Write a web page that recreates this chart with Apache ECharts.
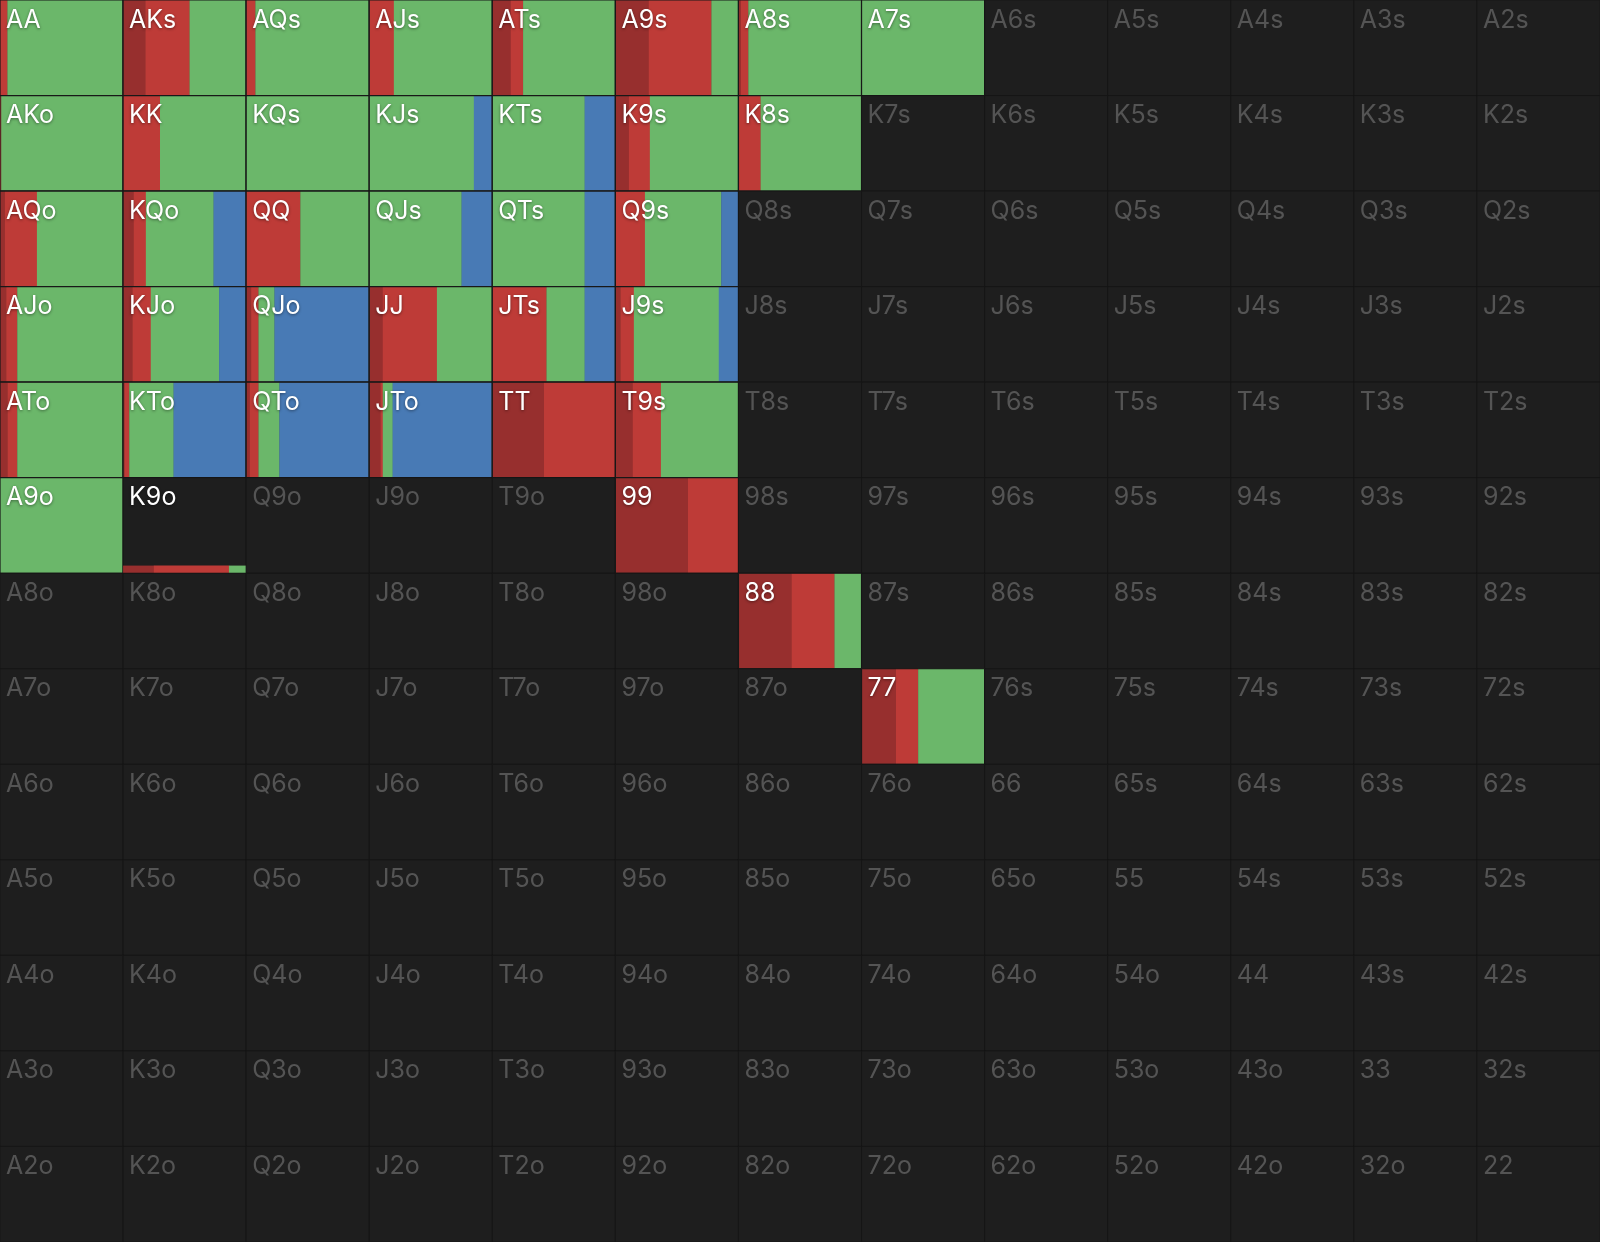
<!DOCTYPE html>
<html><head><meta charset="utf-8">
<script src="https://cdn.jsdelivr.net/npm/echarts@6/dist/echarts.min.js"></script>
<style>html,body{margin:0;padding:0;background:#1e1e1e;overflow:hidden}#chart{width:1600px;height:1242px}</style>
</head><body><div id="chart"></div>
<script>
// Rank order (rows / columns of the grid)
const ranks = ['A','K','Q','J','T','9','8','7','6','5','4','3','2'];

// Hands that have a strategy, with action frequencies (fractions of the cell width)
const hands     = ['AA','AKs','AQs','AJs','ATs','A9s','A8s','A7s',
                   'AKo','KK','KQs','KJs','KTs','K9s','K8s',
                   'AQo','KQo','QQ','QJs','QTs','Q9s',
                   'AJo','KJo','QJo','JJ','JTs','J9s',
                   'ATo','KTo','QTo','JTo','TT','T9s',
                   'A9o','K9o','99','88','77'];
const raiseBig  = [0,0.18,0,0,0.15,0.27,0.02,0,
                   0,0,0,0,0,0.11,0,
                   0.04,0.085,0,0,0,0,
                   0.05,0.075,0.04,0.11,0,0.04,
                   0.06,0.01,0.03,0.09,0.42,0.14,
                   0,0.25,0.59,0.43,0.28];
const raiseSmall= [0.06,0.36,0.075,0.20,0.10,0.51,0.06,0,
                   0.01,0.30,0,0,0,0.17,0.18,
                   0.26,0.10,0.44,0,0,0.24,
                   0.09,0.15,0.06,0.44,0.44,0.11,
                   0.08,0.04,0.07,0.02,0.58,0.23,
                   0,0.61,0.41,0.35,0.18];
const call      = [0.94,0.46,0.925,0.80,0.75,0.22,0.92,1,
                   0.99,0.70,1,0.85,0.75,0.72,0.82,
                   0.70,0.55,0.56,0.75,0.75,0.62,
                   0.86,0.555,0.13,0.45,0.31,0.69,
                   0.86,0.36,0.17,0.08,0,0.63,
                   1,0.14,0,0.22,0.54];
const fold      = [0,0,0,0,0,0,0,0,
                   0,0,0,0.15,0.25,0,0,
                   0,0.265,0,0.25,0.25,0.14,
                   0,0.22,0.77,0,0.25,0.16,
                   0,0.59,0.73,0.81,0,0,
                   0,0,0,0,0];
const weight    = [1,1,1,1,1,1,1,1,
                   1,1,1,1,1,1,1,
                   1,1,1,1,1,1,
                   1,1,1,1,1,1,
                   1,1,1,1,1,1,
                   1,0.08,1,1,1];

const actionColors = ['#972f2e','#be3b37','#6bb76a','#487ab5'];

function handName(r, c) {
  if (r === c) return ranks[r] + ranks[c];
  if (c > r) return ranks[r] + ranks[c] + 's';
  return ranks[c] + ranks[r] + 'o';
}

const cells = [];
for (let r = 0; r < 13; r++) for (let c = 0; c < 13; c++) cells.push([c, r]);

const chart = echarts.init(document.getElementById('chart'), null, {renderer: 'canvas'});

function renderItem(params, api) {
  const c = api.value(0), r = api.value(1);
  const p0 = api.coord([c, r]);
  const p1 = api.coord([c + 1, r + 1]);
  const x = p0[0], y = p0[1], w = p1[0] - p0[0], h = p1[1] - p0[1];
  const name = handName(r, c);
  const idx = hands.indexOf(name);
  const children = [{
    type: 'rect', shape: {x: x, y: y, width: w, height: h},
    style: {fill: '#1e1e1e', stroke: '#161616', lineWidth: 1}
  }];
  if (idx >= 0) {
    const fr = [raiseBig[idx], raiseSmall[idx], call[idx], fold[idx]];
    const bh = h * weight[idx];
    let cx = x;
    for (let k = 0; k < 4; k++) {
      const bw = w * fr[k];
      if (bw > 0) {
        children.push({type: 'rect', shape: {x: cx, y: y + h - bh, width: bw + 0.3, height: bh},
          style: {fill: actionColors[k]}});
      }
      cx += bw;
    }
    if (weight[idx] >= 1) {
      children.push({type: 'rect', shape: {x: x, y: y, width: w, height: h},
        style: {fill: null, stroke: '#181818', lineWidth: 1.2}});
    }
  }
  children.push({
    type: 'text', x: x + 6, y: y + 20,
    style: {
      text: name, fontFamily: 'Inter, Roboto, sans-serif', fontSize: 25, fontWeight: 400,
      fill: idx >= 0 ? '#ffffff' : '#545454', verticalAlign: 'middle', align: 'left',
      textShadowColor: idx >= 0 ? 'rgba(0,0,0,0.45)' : 'transparent',
      textShadowBlur: idx >= 0 ? 3 : 0, textShadowOffsetY: idx >= 0 ? 1 : 0
    }
  });
  return {type: 'group', children: children};
}

chart.setOption({
  backgroundColor: '#1e1e1e',
  animation: false,
  grid: {left: 0, right: 0, top: 0, bottom: 0},
  xAxis: {type: 'value', min: 0, max: 13, show: false},
  yAxis: {type: 'value', min: 0, max: 13, inverse: true, show: false},
  series: [{type: 'custom', renderItem: renderItem, data: cells, clip: false}]
});
</script></body></html>
